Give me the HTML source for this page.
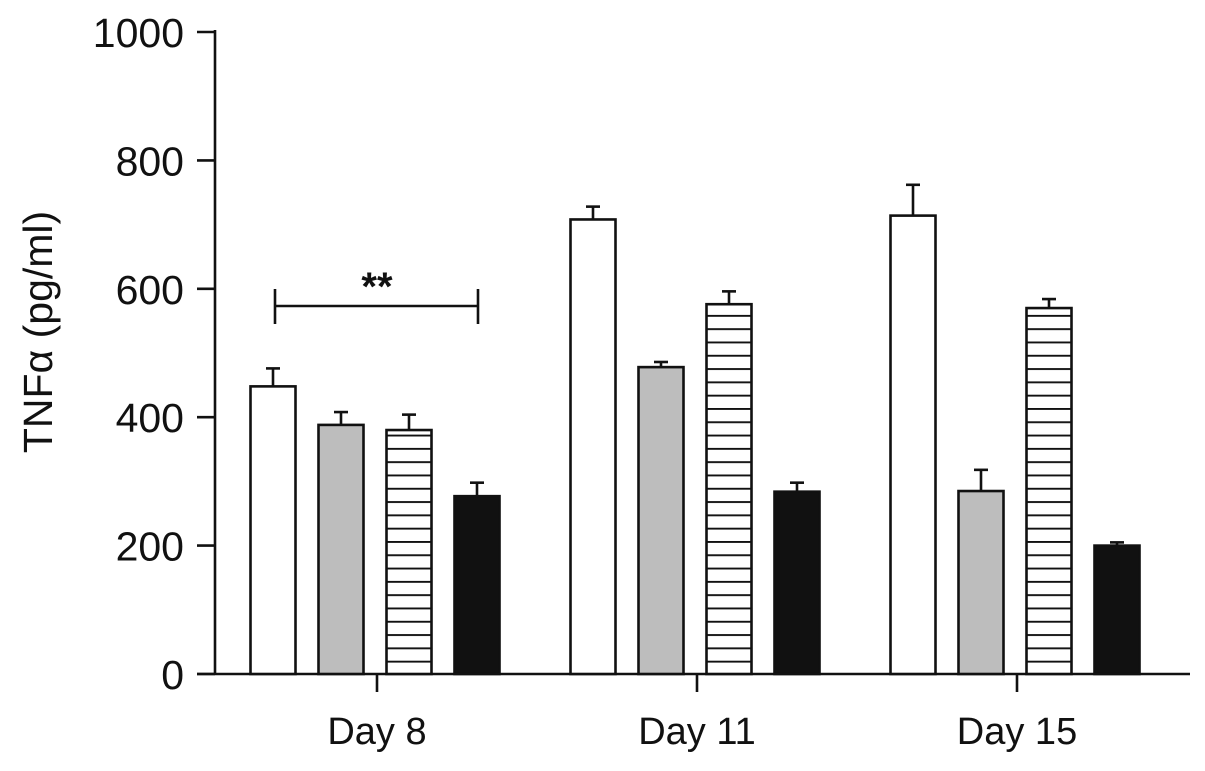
<!DOCTYPE html>
<html><head><meta charset="utf-8"><style>
html,body{margin:0;padding:0;background:#fff;}
svg text{font-family:"Liberation Sans",Arial,sans-serif;fill:#111;}
</style></head><body>
<svg id="chart" width="1205" height="766" viewBox="0 0 1205 766" xmlns="http://www.w3.org/2000/svg">
<defs>
<pattern id="hatch" patternUnits="userSpaceOnUse" width="10" height="13.3" y="674">
<line x1="0" y1="0.5" x2="10" y2="0.5" stroke="#111" stroke-width="2.8"/>
</pattern>
</defs>
<g id="plot"></g>
</svg>
<script>
const categories = ["Day 8", "Day 11", "Day 15"];
const seriesWhite = [448, 708, 714];
const seriesGray = [388, 478, 285];
const seriesHatched = [380, 576, 570];
const seriesBlack = [277, 284, 200];
const errWhite = [28, 20, 48];
const errGray = [20, 8, 33];
const errHatched = [24, 20, 14];
const errBlack = [21, 14, 5];
const yTicks = [0, 200, 400, 600, 800, 1000];

const NS = "http://www.w3.org/2000/svg";
const g = document.getElementById("plot");
const y0 = 674, pxPerUnit = 0.642;
const yScale = v => y0 - v * pxPerUnit;
const groupCenter = i => 377 + i * 320;
const barW = 45;
const offsets = [-104, -36, 32, 100];
function mk(tag, attrs) {
  const e = document.createElementNS(NS, tag);
  for (const k in attrs) e.setAttribute(k, attrs[k]);
  g.appendChild(e);
  return e;
}
let ax = mk("line", {x1: 215, y1: 30, x2: 215, y2: y0 + 1, stroke: "#111", "stroke-width": 2.6});


ax = mk("line", {x1: 197, y1: y0, x2: 1190, y2: y0, stroke: "#111", "stroke-width": 2.6});


yTicks.forEach(t => {
  const yy = yScale(t);
  const tl = mk("line", {x1: 197, y1: yy, x2: 215, y2: yy, stroke: "#111", "stroke-width": 2.6});
  
  
  const tx = mk("text", {x: 184, y: yy + 15, "text-anchor": "end", "font-size": 41});
  tx.textContent = t;
  
  
});
const yt = mk("text", {x: 0, y: 0, "text-anchor": "middle", "font-size": 41, transform: "translate(52,332) rotate(-90)"});
yt.textContent = "TNFα (pg/ml)";



const series = [
  {vals: seriesWhite, errs: errWhite, fill: "#fff", name: "white"},
  {vals: seriesGray, errs: errGray, fill: "#bdbdbd", name: "gray"},
  {vals: seriesHatched, errs: errHatched, fill: "url(#hatch)", name: "hatched"},
  {vals: seriesBlack, errs: errBlack, fill: "#111", name: "black"}
];
categories.forEach((c, i) => {
  const cx = groupCenter(i);
  const tk = mk("line", {x1: cx, y1: y0, x2: cx, y2: 692, stroke: "#111", "stroke-width": 2.6});
  
  
  const lb = mk("text", {x: cx, y: 744, "text-anchor": "middle", "font-size": 38});
  lb.textContent = c;
  
  
  series.forEach((s, j) => {
    const left = cx + offsets[j] - barW / 2;
    const mid = left + barW / 2;
    const top = yScale(s.vals[i]);
    const eTop = yScale(s.vals[i] + s.errs[i]);
    const el = mk("line", {x1: mid, y1: top, x2: mid, y2: eTop, stroke: "#111", "stroke-width": 2.6});
    
    
    const ec = mk("line", {x1: mid - 7, y1: eTop, x2: mid + 7, y2: eTop, stroke: "#111", "stroke-width": 2.6});
    
    
    if (s.name === "hatched") {
      const bg = mk("rect", {x: left, y: top, width: barW, height: y0 - top, fill: "#fff"});
      
      
    }
    const r = mk("rect", {x: left, y: top, width: barW, height: y0 - top, fill: s.fill, stroke: "#111", "stroke-width": 2.6});
    
    
  });
});
const b1 = mk("path", {d: "M275 289 V324 M275 306 H478 M478 289 V324", stroke: "#111", "stroke-width": 2.6, fill: "none"});


const st = mk("text", {x: 377, y: 300, "text-anchor": "middle", "font-size": 40, "font-weight": "bold"});
st.textContent = "**";


</script>
</body></html>
